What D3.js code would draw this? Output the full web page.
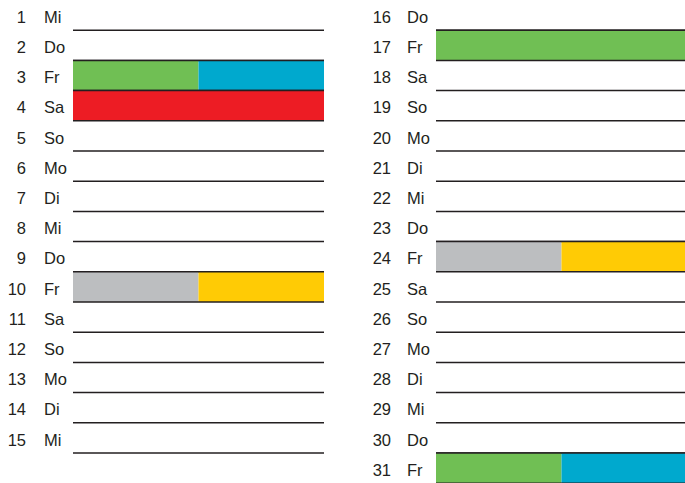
<!DOCTYPE html>
<html>
<head>
<meta charset="utf-8">
<script src="https://cdn.jsdelivr.net/npm/d3@7"></script>
<style>
	body { margin: 0; background: #fff; }
	svg { display: block; }
</style>
</head>
<body>
<div id="chart"></div>
<script>
(function() {

// days of the month and their weekday labels
const dayNumbers = [1,2,3,4,5,6,7,8,9,10,11,12,13,14,15,16,17,18,19,20,21,22,23,24,25,26,27,28,29,30,31];
const weekdays = ["Mi","Do","Fr","Sa","So","Mo","Di","Mi","Do","Fr","Sa","So","Mo","Di","Mi",
	"Do","Fr","Sa","So","Mo","Di","Mi","Do","Fr","Sa","So","Mo","Di","Mi","Do","Fr"];

// days with entries, and the colour blocks in each one
const markedDays = [3, 4, 10, 17, 24, 31];
const markedBlocks = [
	["#70bf54", "#00a9ce"],
	["#ed1c24"],
	["#bcbec0", "#ffcb05"],
	["#70bf54"],
	["#bcbec0", "#ffcb05"],
	["#70bf54", "#00a9ce"]
];

const width = 685, height = 483;
const rowsLeft = 15;

const svg = d3.select("#chart").append("svg")
	.attr("width", width)
	.attr("height", height)
	.attr("font-family", "'Liberation Sans', Arial, Helvetica, sans-serif");

// vertical position of a row inside its column
const y = d3.scaleLinear().domain([0, 16]).range([0, 483.2]);

// columns: where the number ends, where the weekday starts, the bar span
const columns = [
	{ num: 26, wd: 44, x0: 73, x1: 324 },
	{ num: 391, wd: 407, x0: 436, x1: 687 }
];

const rows = dayNumbers.map(function(d, i) {
	let col = i < rowsLeft ? 0 : 1;
	let idx = col === 0 ? i : i - rowsLeft;
	let m = markedDays.indexOf(d);
	return { day: d, wd: weekdays[i], col: columns[col], idx: idx, blocks: m >= 0 ? markedBlocks[m] : [] };
});

const g = svg.selectAll(".row")
	.data(rows)
	.enter().append("g")
	.attr("class", "row");

// colour blocks
g.each(function(r) {
	if (!r.blocks.length) return;
	let x = d3.scaleLinear().domain([0, r.blocks.length]).range([r.col.x0, r.col.x1]);
	d3.select(this).selectAll("rect")
		.data(r.blocks)
		.enter().append("rect")
		.attr("x", function(c, k) { return x(k); })
		.attr("width", function(c, k) { return x(k + 1) - x(k); })
		.attr("y", y(r.idx))
		.attr("height", y(r.idx + 1) - y(r.idx))
		.attr("fill", function(c) { return c; });
});

// separator lines
g.append("line")
	.attr("x1", function(r) { return r.col.x0; })
	.attr("x2", function(r) { return r.col.x1; })
	.attr("y1", function(r) { return y(r.idx + 1); })
	.attr("y2", function(r) { return y(r.idx + 1); })
	.attr("stroke", "#231f20")
	.attr("stroke-width", 1.5);

g.filter(function(r) { return r.blocks.length > 0; }).append("line")
	.attr("x1", function(r) { return r.col.x0; })
	.attr("x2", function(r) { return r.col.x1; })
	.attr("y1", function(r) { return y(r.idx); })
	.attr("y2", function(r) { return y(r.idx); })
	.attr("stroke", "#231f20")
	.attr("stroke-width", 1.5);

// labels
g.append("text")
	.attr("x", function(r) { return r.col.num; })
	.attr("y", function(r) { return y(r.idx + 1) - 7.5; })
	.attr("text-anchor", "end")
	.attr("font-size", 16.5)
	.attr("fill", "#231f20")
	.text(function(r) { return r.day; });

g.append("text")
	.attr("x", function(r) { return r.col.wd; })
	.attr("y", function(r) { return y(r.idx + 1) - 7.5; })
	.attr("font-size", 16.5)
	.attr("fill", "#231f20")
	.text(function(r) { return r.wd; });

})();
</script>
</body>
</html>
